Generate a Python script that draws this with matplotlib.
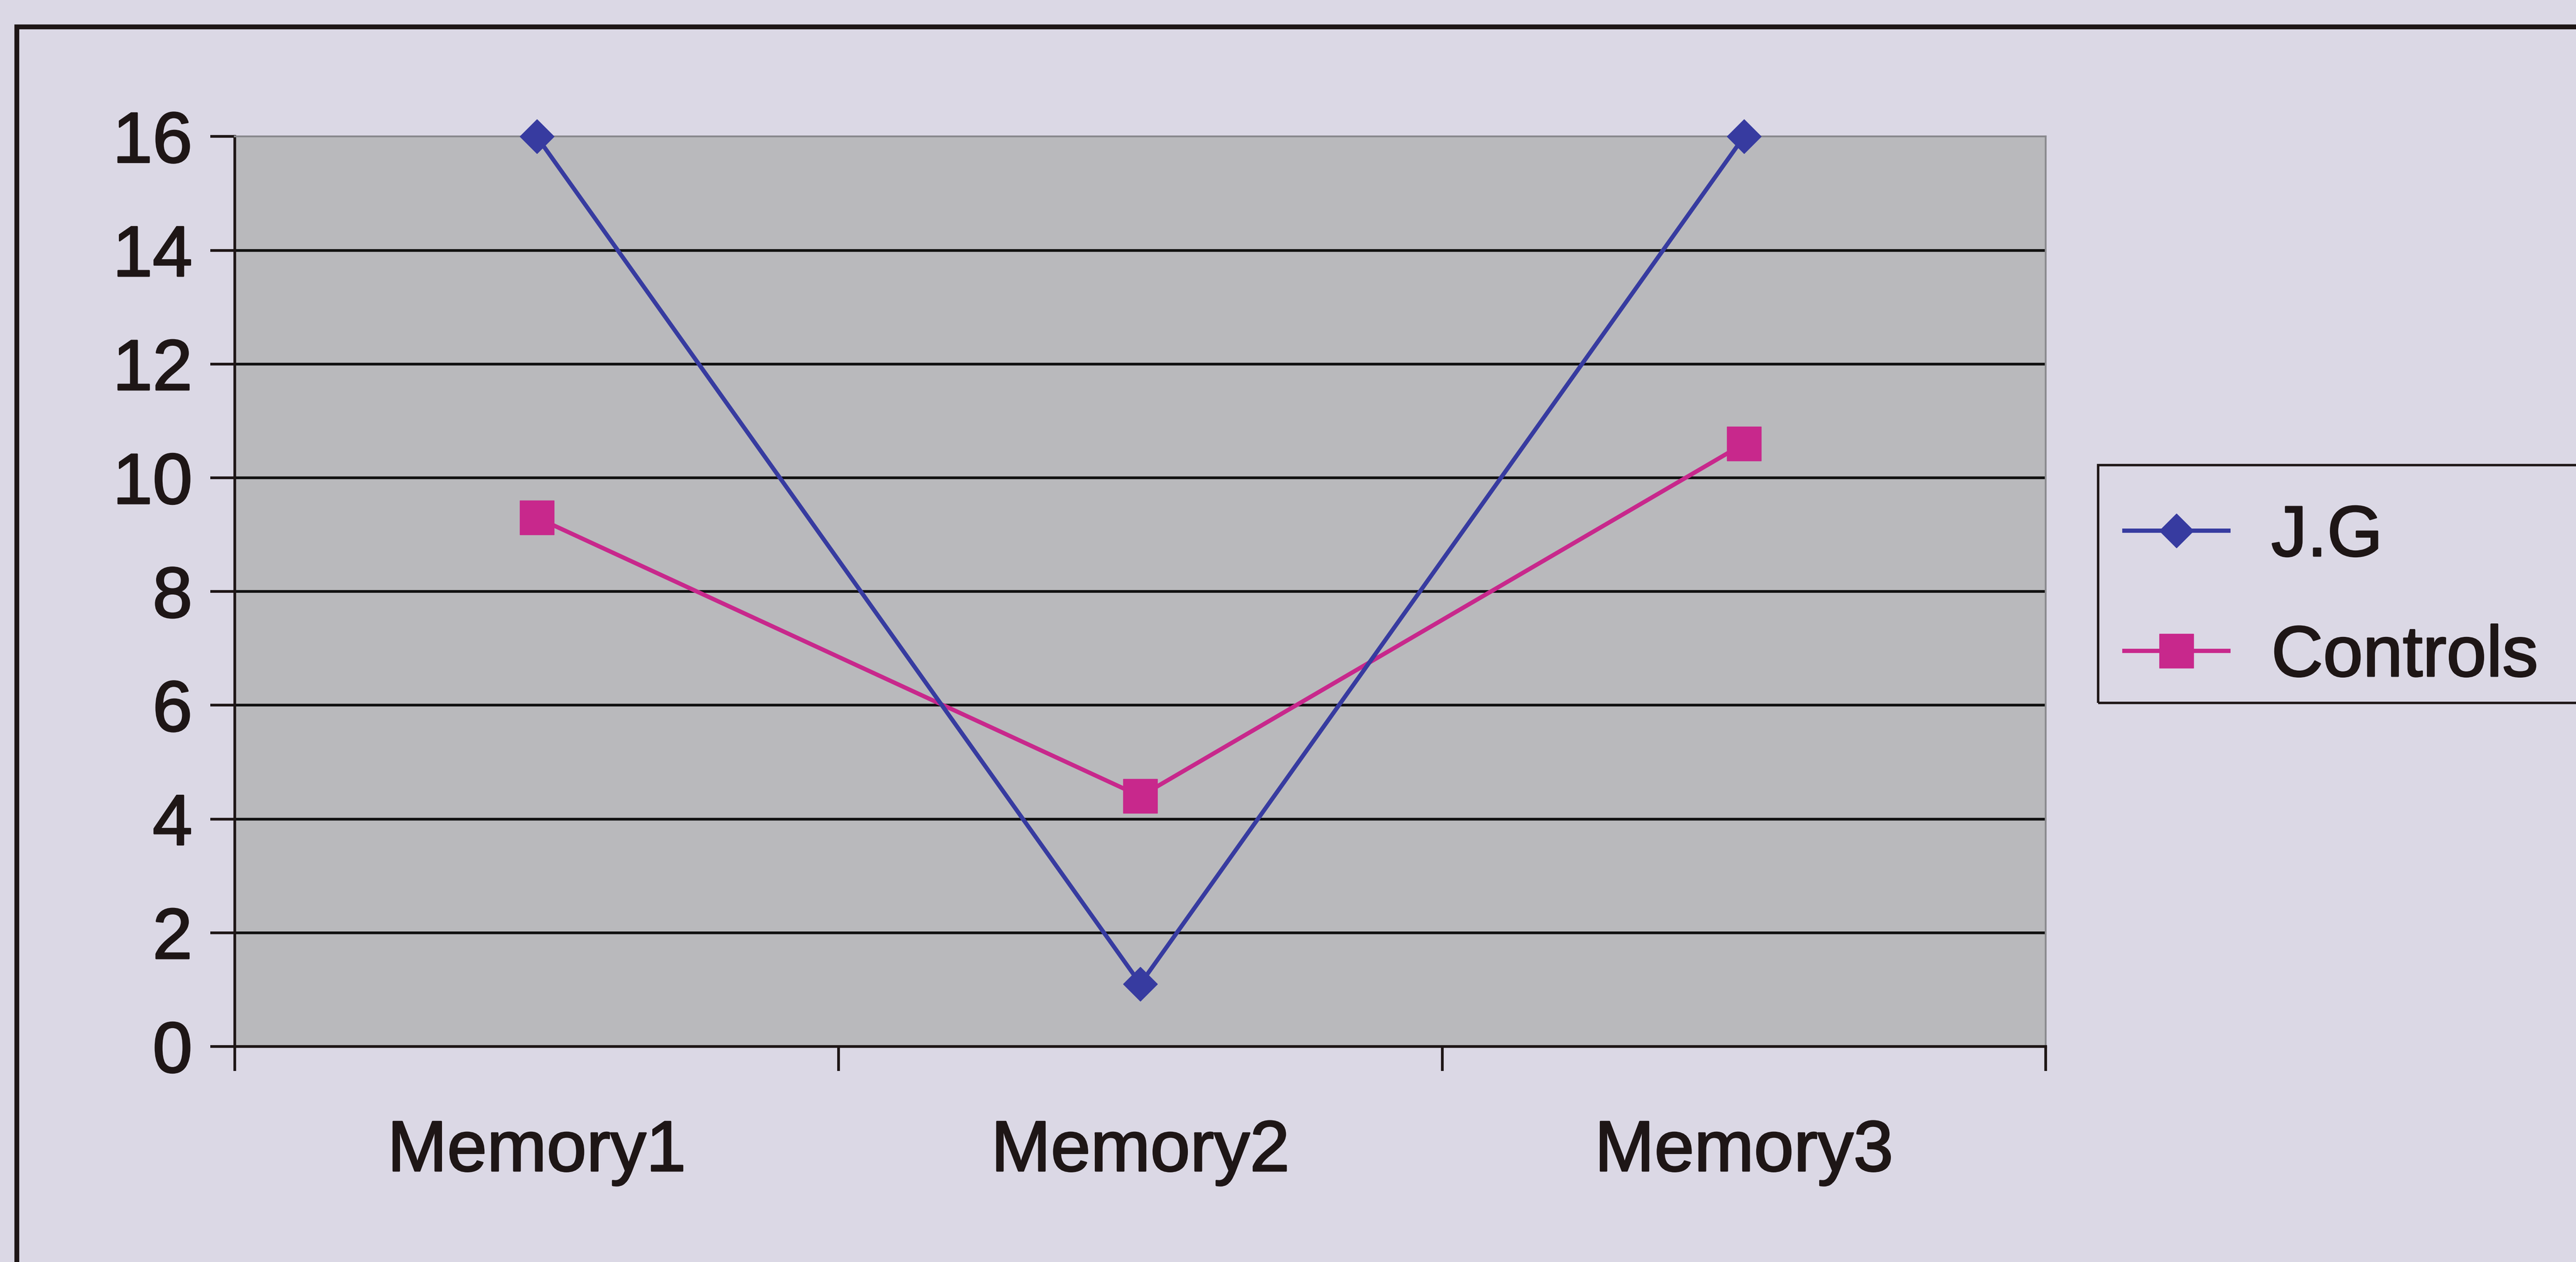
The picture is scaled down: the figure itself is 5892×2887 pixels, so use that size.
import matplotlib
matplotlib.use('Agg')

import matplotlib.pyplot as plt
import matplotlib.patheffects as pe
from matplotlib.patches import Rectangle
from matplotlib.lines import Line2D

categories = ['Memory1', 'Memory2', 'Memory3']
jg_scores = [16, 1.1, 16]
control_scores = [9.3, 4.4, 10.6]
y_ticks = [0, 2, 4, 6, 8, 10, 12, 14, 16]

BG = '#dbd8e5'
PLOT_BG = '#b9b9bc'
INK = '#1e1616'
JG_COLOR = '#373ba0'
CTRL_COLOR = '#c8288c'
FONT = 'Liberation Sans'
FS = 118
LW = 7
# a thin stroke in the text colour gives the heavier printed look
TEXT_FX = [pe.withStroke(linewidth=2.5, foreground=INK)]


def main() -> None:
    fig = plt.figure(figsize=(58.92, 28.87), dpi=100)
    fig.patch.set_facecolor(BG)

    ax = fig.add_axes([0.0912, 0.1708, 0.703, 0.721])
    ax.set_facecolor(PLOT_BG)

    x = list(range(len(categories)))
    ax.plot(x, jg_scores, color=JG_COLOR, lw=LW, marker='D', ms=40,
            mec=JG_COLOR, mfc=JG_COLOR, zorder=4, clip_on=False, label='J.G')
    ax.plot(x, control_scores, color=CTRL_COLOR, lw=LW, marker='s', ms=56,
            mec=CTRL_COLOR, mfc=CTRL_COLOR, zorder=3, clip_on=False, label='Controls')

    ax.set_xlim(-0.5, len(categories) - 0.5)
    ax.set_ylim(0, 16)

    # horizontal grid (top line is the gray frame edge)
    for yv in y_ticks[1:-1]:
        ax.axhline(yv, color='#111111', lw=4.5, zorder=1)

    ax.set_yticks(y_ticks)
    ax.set_yticklabels([str(v) for v in y_ticks], fontsize=FS, family=FONT, color=INK)
    ax.tick_params(axis='y', direction='out', length=40, width=4.5, color=INK, pad=30)

    ax.set_xticks(x)
    ax.set_xticklabels(categories, fontsize=FS, family=FONT, color=INK)
    ax.set_xticks([i - 0.5 for i in range(len(categories) + 1)], minor=True)
    ax.tick_params(axis='x', which='major', length=0, pad=120)
    ax.tick_params(axis='x', which='minor', direction='out', length=40, width=4.5, color=INK)

    for t in ax.get_xticklabels() + ax.get_yticklabels():
        t.set_path_effects(TEXT_FX)

    for side in ('left', 'bottom'):
        ax.spines[side].set_color(INK)
        ax.spines[side].set_linewidth(4.5)
    for side in ('top', 'right'):
        ax.spines[side].set_color('#8a8a8e')
        ax.spines[side].set_linewidth(3)

    # outer chart frame, running off the right and bottom edges
    fig.add_artist(Rectangle((0.0064, -0.2), 1.3, 0.979 + 0.2,
                             transform=fig.transFigure, fill=False,
                             ec=INK, lw=8, zorder=0))

    # legend box, also cut off on the right
    fig.add_artist(Rectangle((0.8145, 0.443), 0.4, 0.6315 - 0.443,
                             transform=fig.transFigure, fill=False,
                             ec=INK, lw=4, zorder=0))

    handles = [
        Line2D([], [], color=JG_COLOR, lw=LW, marker='D', ms=40, mec=JG_COLOR, mfc=JG_COLOR),
        Line2D([], [], color=CTRL_COLOR, lw=LW, marker='s', ms=56, mec=CTRL_COLOR, mfc=CTRL_COLOR),
    ]
    leg = fig.legend(handles, ['J.G', 'Controls'], loc='center left',
                     bbox_to_anchor=(0.8247, 0.5264), frameon=False,
                     borderaxespad=0, borderpad=0, handlelength=1.45,
                     handletextpad=0.6, labelspacing=0.75,
                     prop={'family': FONT, 'size': FS})
    for t in leg.get_texts():
        t.set_color(INK)
        t.set_path_effects(TEXT_FX)

    fig.savefig('out.png', dpi=100, facecolor=BG)
    plt.close(fig)


if __name__ == "__main__":
    main()
